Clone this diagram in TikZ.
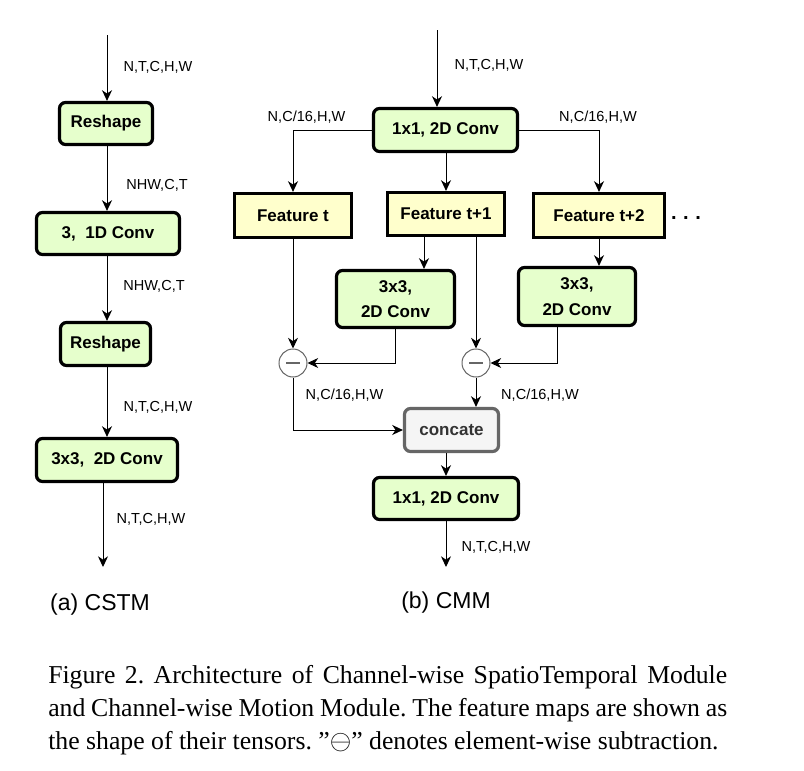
\documentclass[tikz,border=0pt]{standalone}
\usepackage{fontspec}
\setmainfont{Liberation Serif}
\setsansfont{Liberation Sans}
\usetikzlibrary{arrows.meta,calc}
\definecolor{gfill}{HTML}{E6FFCC}
\definecolor{yfill}{HTML}{FFFFCC}
\definecolor{cfill}{HTML}{F5F5F5}
\definecolor{cdraw}{HTML}{666666}
\definecolor{ctext}{HTML}{333333}
\frenchspacing
\begin{document}
\begin{tikzpicture}[x=0.75pt,y=-0.75pt,
  boxfont/.style={font=\sffamily\bfseries\fontsize{12.75}{19}\selectfont},
  gbox/.style={draw, line width=2.4pt, rounded corners=4.5pt, fill=gfill, boxfont, inner sep=0pt, align=center},
  ybox/.style={draw, line width=2.4pt, fill=yfill, boxfont, inner sep=0pt},
  cbox/.style={draw=cdraw, line width=2.4pt, rounded corners=4.5pt, fill=cfill, text=ctext, boxfont, inner sep=0pt},
  lbl/.style={font=\sffamily\fontsize{10.9}{13}\selectfont, inner sep=0pt},
  arr/.style={line width=0.75pt, -{Stealth[length=8pt,width=7.5pt,inset=2.5pt]}},
  minuscirc/.style={circle, draw=cdraw, line width=0.75pt, fill=white, minimum size=21pt, inner sep=0pt,
    path picture={\draw[cdraw, line width=1.5pt] ([xshift=-5pt]path picture bounding box.center) -- ([xshift=5pt]path picture bounding box.center);}}
]
\fill[white] (0,0) rectangle (804,771);
\useasboundingbox (0,0) rectangle (804,771);

% ---------- (a) CSTM ----------
\node[gbox, minimum width=69.75pt, minimum height=31.5pt] (rs1) at (106,123.5) {Reshape};
\node[gbox, minimum width=107.25pt, minimum height=31.5pt] (c1d) at (108,233.5) {3,\ \ 1D Conv};
\node[gbox, minimum width=67.5pt, minimum height=32.25pt] (rs2) at (105.5,344) {Reshape};
\node[gbox, minimum width=105.75pt, minimum height=32.25pt] (c2d) at (107,460) {3x3,\ \ 2D Conv};
\coordinate (ain) at (107,35);
\coordinate (aout) at (103,567);
\draw[arr] (ain) -- (ain |- rs1.north);
\draw[arr] (rs1.south -| ain) -- (ain |- c1d.north);
\draw[arr] (ain |- c1d.south) -- (ain |- rs2.north);
\draw[arr] (ain |- rs2.south) -- (ain |- c2d.north);
\draw[arr] (c2d.south -| aout) -- (aout);

\node[lbl] (la1) at (158,67) {N,T,C,H,W};
\node[lbl] (la2) at (157,185) {NHW,C,T};
\node[lbl] (la3) at (154,286) {NHW,C,T};
\node[lbl] (la4) at (158,407) {N,T,C,H,W};
\node[lbl] (la5) at (151,519) {N,T,C,H,W};
\node[font=\sffamily\fontsize{17.25}{20}\selectfont, inner sep=0pt] (capa) at (100,605) {(a) CSTM};

% ---------- (b) CMM ----------
\node[gbox, minimum width=108pt, minimum height=32.25pt] (conv1) at (445.5,130) {1x1, 2D Conv};
\node[ybox, minimum width=87.75pt, minimum height=33pt] (ft) at (293,215.5) {Feature t};
\node[ybox, minimum width=87.75pt, minimum height=32.25pt] (ft1) at (446,214) {Feature t+1};
\node[ybox, minimum width=98.25pt, minimum height=33pt] (ft2) at (599,215.5) {Feature t+2};
\node[font=\sffamily\bfseries\fontsize{15}{18}\selectfont, inner sep=0pt, anchor=base] (dots) at (686,219) {.\,\,.\,\,.};
\node[gbox, minimum width=88.5pt, minimum height=42.75pt] (b1) at (395.5,299) {3x3,\\2D Conv};
\node[gbox, minimum width=87.75pt, minimum height=43.5pt] (b2) at (577,296.5) {3x3,\\2D Conv};
\node[minuscirc] (m1) at (293,363) {};
\node[minuscirc] (m2) at (476,363) {};
\node[cbox, minimum width=70.5pt, minimum height=32.25pt] (cc) at (451.5,430) {concate};
\node[gbox, minimum width=108.75pt, minimum height=31.5pt] (conv2) at (446,498.5) {1x1, 2D Conv};

\coordinate (bin) at (437,30);
\coordinate (bout) at (446,567);
\coordinate (f1a) at (424,237);
\coordinate (b2o) at (557,327);

\draw[arr] (bin) -- (bin |- conv1.north);
\draw[arr] (conv1.west) -| (ft.north);
\draw[arr] (conv1.south -| ft1.north) -- (ft1.north);
\draw[arr] (conv1.east) -| (ft2.north);
\draw[arr] (f1a) -- (f1a |- b1.north);
\draw[arr] (ft1.south -| m2) -- (m2.north);
\draw[arr] (ft2.south) -- (ft2.south |- b2.north);
\draw[arr] (ft.south) -- (m1.north);
\draw[arr] (b1.south) |- (m1.east);
\draw[arr] (b2o) |- (m2.east);
\draw[arr] (m1.south) |- (cc.west);
\draw[arr] (m2.south) -- (m2.south |- cc.north);
\draw[arr] (conv2.north |- cc.south) -- (conv2.north);
\draw[arr] (conv2.south) -- (bout);

\node[lbl] (lb1) at (489,65) {N,T,C,H,W};
\node[lbl] (lb2) at (306.5,117) {N,C/16,H,W};
\node[lbl] (lb3) at (598,117) {N,C/16,H,W};
\node[lbl] (lb4) at (344.5,395) {N,C/16,H,W};
\node[lbl] (lb5) at (540,395) {N,C/16,H,W};
\node[lbl] (lb6) at (496,547) {N,T,C,H,W};
\node[font=\sffamily\fontsize{17.25}{20}\selectfont, inner sep=0pt] (capb) at (446,603) {(b) CMM};

% ---------- caption ----------
\node[anchor=base west, inner sep=0pt, font=\fontsize{19.3}{24.75}\selectfont] (cap) at (48,683)
{\parbox[t]{509.25pt}{\makebox[509.25pt][s]{Figure 2. Architecture of Channel-wise SpatioTemporal Module}\\
\makebox[509.25pt][s]{and Channel-wise Motion Module. The feature maps are shown as}\\
the shape of their tensors. ”$\ominus$” denotes element-wise subtraction.}};
\end{tikzpicture}
\end{document}
